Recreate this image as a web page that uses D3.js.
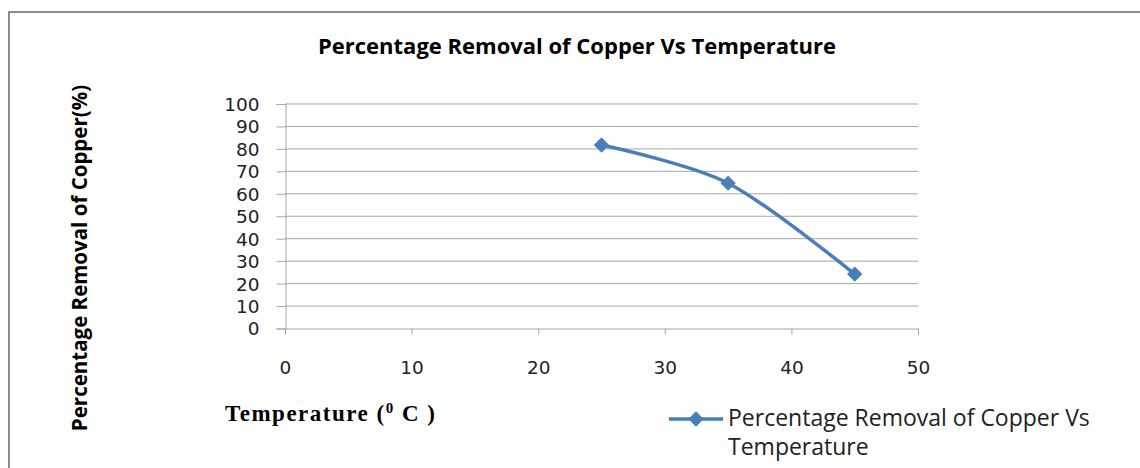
<!DOCTYPE html>
<meta charset="utf-8">
<style>
body {margin: 0; background: white;}
.grid line {stroke: #a6a6a6; stroke-width: 1px;}
.axis path, .axis line {stroke: #a6a6a6; stroke-width: 1px;}
.axis text {font-family: "DejaVu Sans", sans-serif; font-size: 18.5px; fill: #222;}
.series {fill: none; stroke: #4a7ebb; stroke-width: 3.5px;}
.dot {fill: #4a7ebb;}
</style>
<body>
<script src="https://d3js.org/d3.v7.min.js"></script>
<script>
var temps = [25, 35, 45]
var removal = [81.5, 64.5, 24]
var xTicks = [0, 10, 20, 30, 40, 50]
var yTicks = [0, 10, 20, 30, 40, 50, 60, 70, 80, 90, 100]
var title = "Percentage Removal of Copper Vs Temperature"
var seriesName = ["Percentage Removal of Copper Vs", "Temperature"]

var width = 1140, height = 468
var x = d3.scaleLinear().domain([0, 50]).range([285, 918])
var y = d3.scaleLinear().domain([0, 100]).range([328, 103.5])

var svg = d3.select("body").append("svg")
  .attr("width", width).attr("height", height)

// outer frame (right and bottom run off the picture)
svg.append("rect")
  .attr("x", 9).attr("y", 12).attr("width", 1200).attr("height", 500)
  .attr("fill", "white").attr("stroke", "#8c8c8c").attr("stroke-width", 2)

svg.append("text")
  .attr("x", 577).attr("y", 54).attr("text-anchor", "middle")
  .style("font-family", "'Open Sans', sans-serif").style("font-weight", "bold")
  .style("font-size", "22px").text(title)

svg.append("g").attr("class", "grid")
  .selectAll("line").data(yTicks.slice(1)).enter().append("line")
  .attr("x1", x(0)).attr("x2", x(50))
  .attr("y1", d => y(d) + 0.5).attr("y2", d => y(d) + 0.5)

svg.append("g").attr("class", "axis")
  .attr("transform", "translate(" + (x(0) + 0.5) + ",0.5)")
  .call(d3.axisLeft(y).tickValues(yTicks).tickSize(9).tickPadding(17))
  .call(g => g.selectAll("text").attr("dy", "0.35em"))

svg.append("g").attr("class", "axis")
  .attr("transform", "translate(0," + (y(0) + 0.5) + ")")
  .call(d3.axisBottom(x).tickValues(xTicks).tickSize(6).tickPadding(26))

svg.append("text")
  .attr("transform", "translate(87,258) rotate(-90)")
  .attr("text-anchor", "middle")
  .style("font-family", "'Open Sans', sans-serif").style("font-weight", "bold")
  .style("font-size", "20.5px").text("Percentage Removal of Copper(%)")

var xl = svg.append("text").attr("x", 225).attr("y", 421)
  .style("font-family", "'Liberation Serif', serif").style("font-weight", "bold")
  .style("font-size", "23px").style("letter-spacing", "1.5px")
xl.append("tspan").text("Temperature (")
xl.append("tspan").attr("dy", -8).style("font-size", "15px").text("0")
xl.append("tspan").attr("dy", 8).text(" C )")

var pts = temps.map((t, i) => [x(t), y(removal[i])])
svg.append("path").datum(pts).attr("class", "series")
  .attr("d", d3.line().curve(d3.curveCardinal.tension(0.1)))

var diamond = d3.symbol().type(d3.symbolDiamond2).size(150)
svg.selectAll(".dot").data(pts).enter().append("path")
  .attr("class", "dot").attr("d", diamond)
  .attr("transform", d => "translate(" + d[0] + "," + d[1] + ")")

// legend
svg.append("line").attr("x1", 669).attr("x2", 723).attr("y1", 419).attr("y2", 419)
  .attr("class", "series")
svg.append("path").attr("class", "dot").attr("d", diamond)
  .attr("transform", "translate(696,419)")
svg.append("g").selectAll("text").data(seriesName).enter().append("text")
  .attr("x", 728).attr("y", (d, i) => 426 + i * 29)
  .style("font-family", "'Open Sans', sans-serif").style("font-size", "23px")
  .attr("fill", "#222").text(d => d)
</script>
